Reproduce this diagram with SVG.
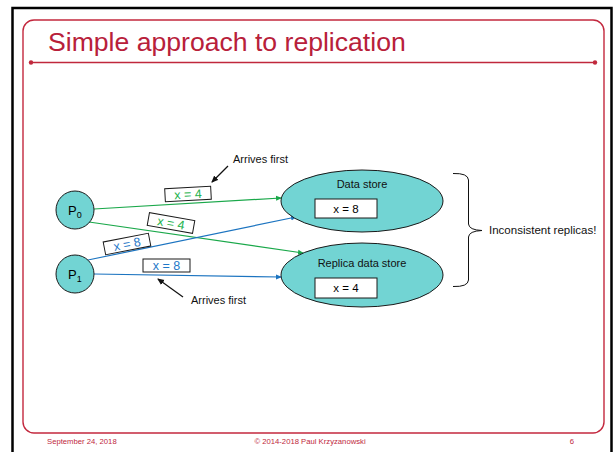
<svg xmlns="http://www.w3.org/2000/svg" width="613" height="452" viewBox="0 0 613 452">
<style>
text{font-family:"Liberation Sans",Arial,sans-serif}
.node{fill:#72d4d3;stroke:#1a1a1a;stroke-width:1}
.lbl{font-size:11px;fill:#111}
.box{fill:#fff;stroke:#1a1a1a;stroke-width:1}
.g{stroke:#1aa84a;stroke-width:1.2;fill:none}
.b{stroke:#1c74c0;stroke-width:1.2;fill:none}
.k{stroke:#111;stroke-width:1.2;fill:none}
.gt{fill:#22b24c;font-size:12.5px}
.bt{fill:#1f78c8;font-size:12.5px}
.foot{fill:#c0283c;font-size:7.7px}
</style>
<defs>
<marker id="ag" markerWidth="6" markerHeight="6" refX="5" refY="3" orient="auto" markerUnits="userSpaceOnUse"><path d="M0,0.5 L6,3 L0,5.5z" fill="#1aa84a"/></marker>
<marker id="ab" markerWidth="6" markerHeight="6" refX="5" refY="3" orient="auto" markerUnits="userSpaceOnUse"><path d="M0,0.5 L6,3 L0,5.5z" fill="#1c74c0"/></marker>
<marker id="ak" markerWidth="7" markerHeight="7" refX="6" refY="3.5" orient="auto" markerUnits="userSpaceOnUse"><path d="M0,0.5 L7,3.5 L0,6.5z" fill="#111"/></marker>
</defs>
<rect x="0" y="0" width="613" height="452" fill="#fff"/>
<rect x="12.5" y="8" width="599" height="500" fill="none" stroke="#000" stroke-width="2.5"/>
<rect x="23" y="20" width="581" height="413" rx="11" fill="none" stroke="#c3283e" stroke-width="1.4"/>
<text x="48" y="51" style="font-size:26.6px;fill:#b8203a">Simple approach to replication</text>
<line x1="31" y1="62.5" x2="595" y2="62.5" stroke="#c0283c" stroke-width="1.5"/>
<circle cx="31" cy="62.5" r="2.2" fill="#c0283c"/>
<circle cx="595" cy="62.5" r="2.2" fill="#c0283c"/>

<g id="connectors">
<line class="g" x1="94" y1="209" x2="281" y2="198" marker-end="url(#ag)"/>
<line class="g" x1="89" y1="222" x2="303" y2="253" marker-end="url(#ag)"/>
<line class="b" x1="88" y1="260" x2="296" y2="217" marker-end="url(#ab)"/>
<line class="b" x1="94" y1="274" x2="281" y2="277" marker-end="url(#ab)"/>
<line class="k" x1="228" y1="166" x2="212" y2="182" marker-end="url(#ak)"/>
<line class="k" x1="183" y1="297" x2="158" y2="279" marker-end="url(#ak)"/>
</g>

<g id="P0">
<circle class="node" cx="75" cy="210" r="19"/>
<text x="68" y="214.5" style="font-size:13px">P<tspan dy="3" style="font-size:9px">0</tspan></text>
</g>
<g id="P1">
<circle class="node" cx="75" cy="274" r="19"/>
<text x="68" y="278.5" style="font-size:13px">P<tspan dy="3" style="font-size:9px">1</tspan></text>
</g>

<g id="datastore">
<ellipse class="node" cx="362" cy="201" rx="81" ry="31"/>
<text class="lbl" x="362" y="188" text-anchor="middle">Data store</text>
<rect class="box" x="315" y="199" width="62" height="19"/>
<text x="346" y="213" text-anchor="middle" style="font-size:11.5px">x = 8</text>
</g>
<g id="replica">
<ellipse class="node" cx="362" cy="275" rx="81" ry="32"/>
<text class="lbl" x="362" y="267" text-anchor="middle">Replica data store</text>
<rect class="box" x="315" y="278" width="62" height="20"/>
<text x="346" y="292" text-anchor="middle" style="font-size:11.5px">x = 4</text>
</g>

<g id="msg1">
<g transform="translate(188,194) rotate(-3)">
<rect class="box" x="-23" y="-6.5" width="46" height="13"/>
<text class="gt" x="0" y="4.5" text-anchor="middle">x = 4</text>
</g>
</g>
<g id="msg2">
<g transform="translate(171,223) rotate(10)">
<rect class="box" x="-23" y="-6.5" width="46" height="13"/>
<text class="gt" x="0" y="4.5" text-anchor="middle">x = 4</text>
</g>
</g>
<g id="msg3">
<g transform="translate(127,244) rotate(-11)">
<rect class="box" x="-23" y="-6.5" width="46" height="13"/>
<text class="bt" x="0" y="4.5" text-anchor="middle">x = 8</text>
</g>
</g>
<g id="msg4">
<rect class="box" x="143" y="259" width="47" height="13"/>
<text class="bt" x="166.5" y="270" text-anchor="middle">x = 8</text>
</g>

<g id="note1"><text class="lbl" x="233" y="163">Arrives first</text></g>
<g id="note2"><text class="lbl" x="191" y="304">Arrives first</text></g>

<g id="brace">
<path d="M453,173.5 Q468,173 468.5,180 L468.5,224 Q469,230 482,230.5 Q469,231 468.5,237 L468.5,280 Q468,287 453,286.5" fill="none" stroke="#111" stroke-width="1"/>
<text x="489" y="234" style="font-size:11.5px;fill:#111">Inconsistent replicas!</text>
</g>

<text class="foot" x="47" y="444">September 24, 2018</text>
<text class="foot" x="310" y="444" text-anchor="middle">© 2014-2018 Paul Krzyzanowski</text>
<text class="foot" x="572" y="444" text-anchor="middle">6</text>
</svg>
